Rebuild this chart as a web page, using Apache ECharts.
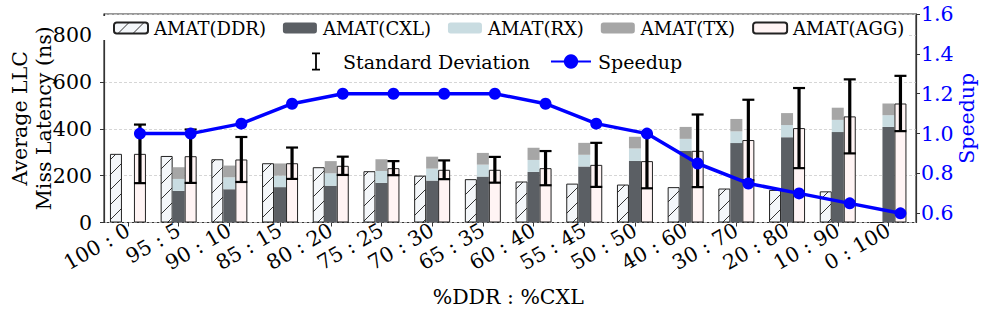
<!DOCTYPE html>
<html>
<head>
<meta charset="utf-8">
<script src="https://cdn.jsdelivr.net/npm/echarts@6/dist/echarts.min.js"></script>
<style>html,body{margin:0;padding:0;background:#fff;}#chart{width:986px;height:315px;}</style>
</head>
<body>
<div id="chart"></div>
<script>
// ---- data ----
const categories = ['100 : 0','95 : 5','90 : 10','85 : 15','80 : 20','75 : 25','70 : 30','65 : 35','60 : 40','55 : 45','50 : 50','40 : 60','30 : 70','20 : 80','10 : 90','0 : 100'];
const amatDDR = [293, 284, 270, 253, 236, 219, 200, 185, 175, 166, 162, 151, 145, 139, 133, 0];
const amatCXL = [0, 135, 142, 151, 157, 169, 179, 196, 216, 239, 263, 306, 339, 364, 386, 408];
const amatRX  = [0, 51, 51, 49, 53, 51, 51, 51, 51, 50, 53, 51, 50, 52, 52, 50];
const amatTX  = [0, 50, 50, 52, 52, 50, 51, 50, 52, 51, 50, 51, 53, 51, 52, 50];
const amatAGG = [293, 283, 269, 253, 242, 232, 225, 225, 232, 246, 262, 306, 352, 403, 453, 508];
const aggStd  = [125, 114, 96, 67, 39, 30, 40, 55, 73, 94, 116, 155, 172, 171, 158, 118];
const speedup = [1.0, 1.0, 1.05, 1.15, 1.2, 1.2, 1.2, 1.2, 1.15, 1.05, 1.0, 0.85, 0.75, 0.7, 0.65, 0.6];
const rightTicks = [0.6, 0.8, 1.0, 1.2, 1.4, 1.6];

// ---- styles ----
const FONT = 'DejaVu Serif';
const TICK_FS = 20.5;
const hatch = (function () {
  const c = document.createElement('canvas');
  c.width = 15; c.height = 15;
  const g = c.getContext('2d');
  g.fillStyle = '#f4f7fa'; g.fillRect(0, 0, 15, 15);
  g.strokeStyle = '#333'; g.lineWidth = 1;
  g.beginPath();
  g.moveTo(-2, 17); g.lineTo(17, -2);
  g.moveTo(-2, 2); g.lineTo(2, -2);
  g.moveTo(13, 17); g.lineTo(17, 13);
  g.stroke();
  return { image: c.toDataURL(), repeat: 'repeat' };
})();

const chart = echarts.init(document.getElementById('chart'), null, { renderer: 'svg' });

const G = { top: 14, height: 208.5 };
const errData = categories.map((c, i) => [i, amatAGG[i] - aggStd[i], amatAGG[i] + aggStd[i]]);

const option = {
  backgroundColor: '#fff',
  animation: false,
  textStyle: { fontFamily: FONT },
  grid: [
    { left: 98, width: 818, top: G.top, height: G.height, show: true, borderColor: '#333', borderWidth: 1.2, backgroundColor: 'transparent' },
    { left: 102.6, width: 811.2, top: G.top, height: G.height },
    { left: 114.6, width: 811.2, top: G.top, height: G.height }
  ],
  xAxis: [
    { gridIndex: 0, type: 'value', min: 0, max: 1, show: false },
    { gridIndex: 1, type: 'category', data: categories,
      axisLine: { show: false },
      axisTick: { show: true, alignWithLabel: true, length: 4, lineStyle: { color: '#333' } },
      axisLabel: { rotate: 30, margin: 6, fontSize: TICK_FS, fontFamily: FONT, color: '#000', interval: 0 },
      name: '%DDR : %CXL', nameLocation: 'middle', nameGap: 64,
      nameTextStyle: { fontSize: TICK_FS, fontFamily: FONT, color: '#000' } },
    { gridIndex: 2, type: 'category', data: categories, show: false }
  ],
  yAxis: [
    { gridIndex: 0, type: 'value', min: 0, max: 890, interval: 200,
      axisLine: { show: true, lineStyle: { color: '#333', width: 1.2 } },
      axisTick: { show: true, length: 4, lineStyle: { color: '#333' } },
      axisLabel: { show: true, fontSize: TICK_FS, fontFamily: FONT, color: '#000', margin: 12, align: 'right', showMaxLabel: false },
      splitLine: { show: true, lineStyle: { color: '#ccc', type: [3, 2], width: 0.8 } },
      name: 'Average LLC\nMiss Latency (ns)', nameLocation: 'middle', nameRotate: 90, nameGap: 48, nameMoveOverlap: false,
      nameTextStyle: { fontSize: TICK_FS, fontFamily: FONT, color: '#000', lineHeight: 24 } },
    { gridIndex: 0, type: 'value', position: 'right', min: 0.554, max: 1.6,
      axisLine: { show: true, lineStyle: { color: '#333', width: 1.2 } },
      axisTick: { show: true, length: 4, lineStyle: { color: '#333' }, customValues: rightTicks },
      axisLabel: { fontSize: TICK_FS, fontFamily: FONT, color: '#0000ff', margin: 5, align: 'left', customValues: rightTicks,
        formatter: v => Number(v).toFixed(1) },
      splitLine: { show: false },
      name: 'Speedup', nameLocation: 'middle', nameRotate: 90, nameGap: 40, nameMoveOverlap: false,
      nameTextStyle: { fontSize: TICK_FS, fontFamily: FONT, color: '#0000ff' } },
    { gridIndex: 1, type: 'value', min: 0, max: 890, show: false },
    { gridIndex: 2, type: 'value', min: 0.554, max: 1.6, show: false },
    { gridIndex: 2, type: 'value', min: 0, max: 890, show: false }
  ],
  legend: [
    { data: ['AMAT(DDR)', 'AMAT(CXL)', 'AMAT(RX)', 'AMAT(TX)', 'AMAT(AGG)'],
      left: 100, top: 16, padding: [3, 3, 3, 13], itemGap: 17, itemWidth: 34, itemHeight: 11,
      backgroundColor: '#fff', selectedMode: false,
      textStyle: { fontSize: 18, fontFamily: FONT, color: '#000', padding: [0, 0, 0, 1] } },
    { data: [
        { name: 'Standard Deviation', icon: 'path://M0,0M40,0M40,18M0,18M16,0H24V1.8H20.9V16.2H24V18H16V16.2H19.1V1.8H16Z', itemStyle: { color: '#000' } },
        { name: 'Speedup' }
      ],
      left: 296, top: 50, padding: [2, 3, 2, 0], itemGap: 20, itemWidth: 40, itemHeight: 18,
      backgroundColor: '#fff', selectedMode: false,
      textStyle: { fontSize: 19, fontFamily: FONT, color: '#000', padding: [0, 0, 0, 2] } }
  ],
  series: [
    { name: 'AMAT(DDR)', type: 'bar', xAxisIndex: 1, yAxisIndex: 2, data: amatDDR,
      barWidth: 12, barGap: '0%',
      itemStyle: { color: hatch, borderColor: '#222', borderWidth: 1 } },
    { name: 'AMAT(CXL)', type: 'bar', stack: 'cxl', xAxisIndex: 1, yAxisIndex: 2, data: amatCXL,
      barWidth: 12, barGap: '0%', itemStyle: { color: '#5b5f64' } },
    { name: 'AMAT(RX)', type: 'bar', stack: 'cxl', xAxisIndex: 1, yAxisIndex: 2, data: amatRX,
      barWidth: 12, barGap: '0%', itemStyle: { color: '#c9dce1' } },
    { name: 'AMAT(TX)', type: 'bar', stack: 'cxl', xAxisIndex: 1, yAxisIndex: 2, data: amatTX,
      barWidth: 12, barGap: '0%', itemStyle: { color: '#a6a6a6' } },
    { name: 'AMAT(AGG)', type: 'bar', xAxisIndex: 1, yAxisIndex: 2, data: amatAGG,
      barWidth: 12, barGap: '0%',
      itemStyle: { color: '#fff4f4', borderColor: '#222', borderWidth: 1 } },
    { name: 'Standard Deviation', type: 'custom', xAxisIndex: 2, yAxisIndex: 4, data: errData,
      encode: { x: 0, y: [1, 2] }, itemStyle: { color: '#000' }, z: 5,
      renderItem: function (params, api) {
        const i = api.value(0);
        const top = api.coord([i, api.value(2)]);
        const bot = api.coord([i, api.value(1)]);
        const hw = 6;
        return { type: 'group', children: [
          { type: 'line', shape: { x1: top[0], y1: top[1], x2: bot[0], y2: bot[1] }, style: { stroke: '#000', lineWidth: 3.2 } },
          { type: 'line', shape: { x1: top[0] - hw, y1: top[1], x2: top[0] + hw, y2: top[1] }, style: { stroke: '#000', lineWidth: 2.2 } },
          { type: 'line', shape: { x1: bot[0] - hw, y1: bot[1], x2: bot[0] + hw, y2: bot[1] }, style: { stroke: '#000', lineWidth: 2.2 } }
        ] };
      } },
    { name: 'Speedup', type: 'line', xAxisIndex: 2, yAxisIndex: 3, data: speedup, z: 6,
      symbol: 'circle', symbolSize: 12, showSymbol: true,
      lineStyle: { color: '#0000ff', width: 3.5 }, itemStyle: { color: '#0000ff' } }
  ]
};
chart.setOption(option);
</script>
</body>
</html>
